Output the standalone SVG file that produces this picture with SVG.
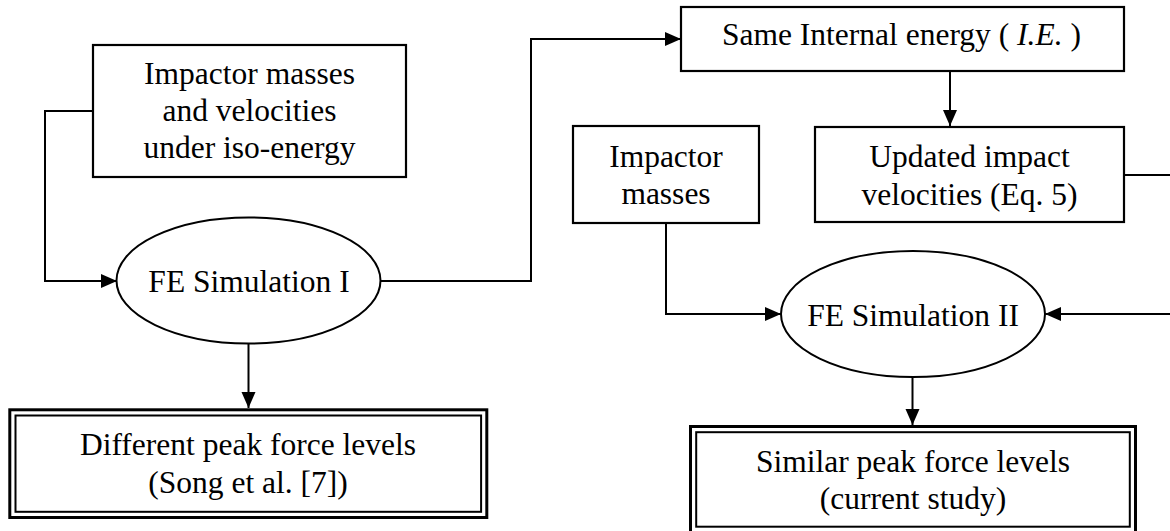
<svg xmlns="http://www.w3.org/2000/svg" width="1170" height="531" viewBox="0 0 1170 531">
<defs>
<marker id="arr" markerUnits="userSpaceOnUse" markerWidth="18" markerHeight="16" refX="16" refY="7" orient="auto">
<path d="M0,0 L16,7 L0,14 z" fill="#000"/>
</marker>
<style>
.box{fill:#fff;stroke:#000;stroke-width:2.2}
.outer{fill:#fff;stroke:#000;stroke-width:3}
.inner{fill:none;stroke:#000;stroke-width:2}
.ell{fill:#fff;stroke:#000;stroke-width:2}
.t{font-family:"Liberation Serif","Times New Roman",serif;font-size:31.5px;fill:#000;text-anchor:middle}
.c{fill:none;stroke:#000;stroke-width:2}
</style>
</defs>
<rect width="1170" height="531" fill="#fff"/>
<g id="connectors">
<path class="c" d="M93,111 H45 V281 H117" marker-end="url(#arr)"/>
<path class="c" d="M380,281 H531 V39 H681" marker-end="url(#arr)"/>
<path class="c" d="M950,71 V126" marker-end="url(#arr)"/>
<path class="c" d="M248.5,343.5 V408" marker-end="url(#arr)"/>
<path class="c" d="M666,223 V314 H781" marker-end="url(#arr)"/>
<path class="c" d="M1124,175 H1176 V314 H1045" marker-end="url(#arr)"/>
<path class="c" d="M912.5,377 V425" marker-end="url(#arr)"/>
</g>
<g id="node-input1">
<rect class="box" x="93" y="45" width="313" height="132"/>
<text class="t" x="249.5" y="84">Impactor masses</text>
<text class="t" x="249.5" y="121">and velocities</text>
<text class="t" x="249.5" y="157.5">under iso-energy</text>
</g>
<g id="node-fe1">
<ellipse class="ell" cx="248.5" cy="280.5" rx="132" ry="63"/>
<text class="t" x="249" y="292">FE Simulation I</text>
</g>
<g id="node-result1">
<rect class="outer" x="9.8" y="409.8" width="477" height="107.7"/>
<rect class="inner" x="15.5" y="415.5" width="465.6" height="96.3"/>
<text class="t" x="248" y="455">Different peak force levels</text>
<text class="t" x="248" y="493">(Song et al. [7])</text>
</g>
<g id="node-same-ie">
<rect class="box" x="681" y="7" width="443" height="64"/>
<text class="t" x="722" y="45" style="text-anchor:start">Same Internal energy ( <tspan font-style="italic">I.E.</tspan> )</text>
</g>
<g id="node-updated">
<rect class="box" x="815" y="127" width="309" height="95"/>
<text class="t" x="969.5" y="167">Updated impact</text>
<text class="t" x="969.5" y="204.5">velocities (Eq. 5)</text>
</g>
<g id="node-masses">
<rect class="box" x="573" y="126" width="186" height="97"/>
<text class="t" x="666" y="167">Impactor</text>
<text class="t" x="666" y="204">masses</text>
</g>
<g id="node-fe2">
<ellipse class="ell" cx="913" cy="314" rx="132" ry="63"/>
<text class="t" x="913" y="326">FE Simulation II</text>
</g>
<g id="node-result2">
<rect class="outer" x="690.5" y="426.5" width="445" height="110"/>
<rect class="inner" x="696.2" y="432.2" width="433.6" height="94.5"/>
<text class="t" x="913" y="472">Similar peak force levels</text>
<text class="t" x="913" y="509">(current study)</text>
</g>
</svg>
